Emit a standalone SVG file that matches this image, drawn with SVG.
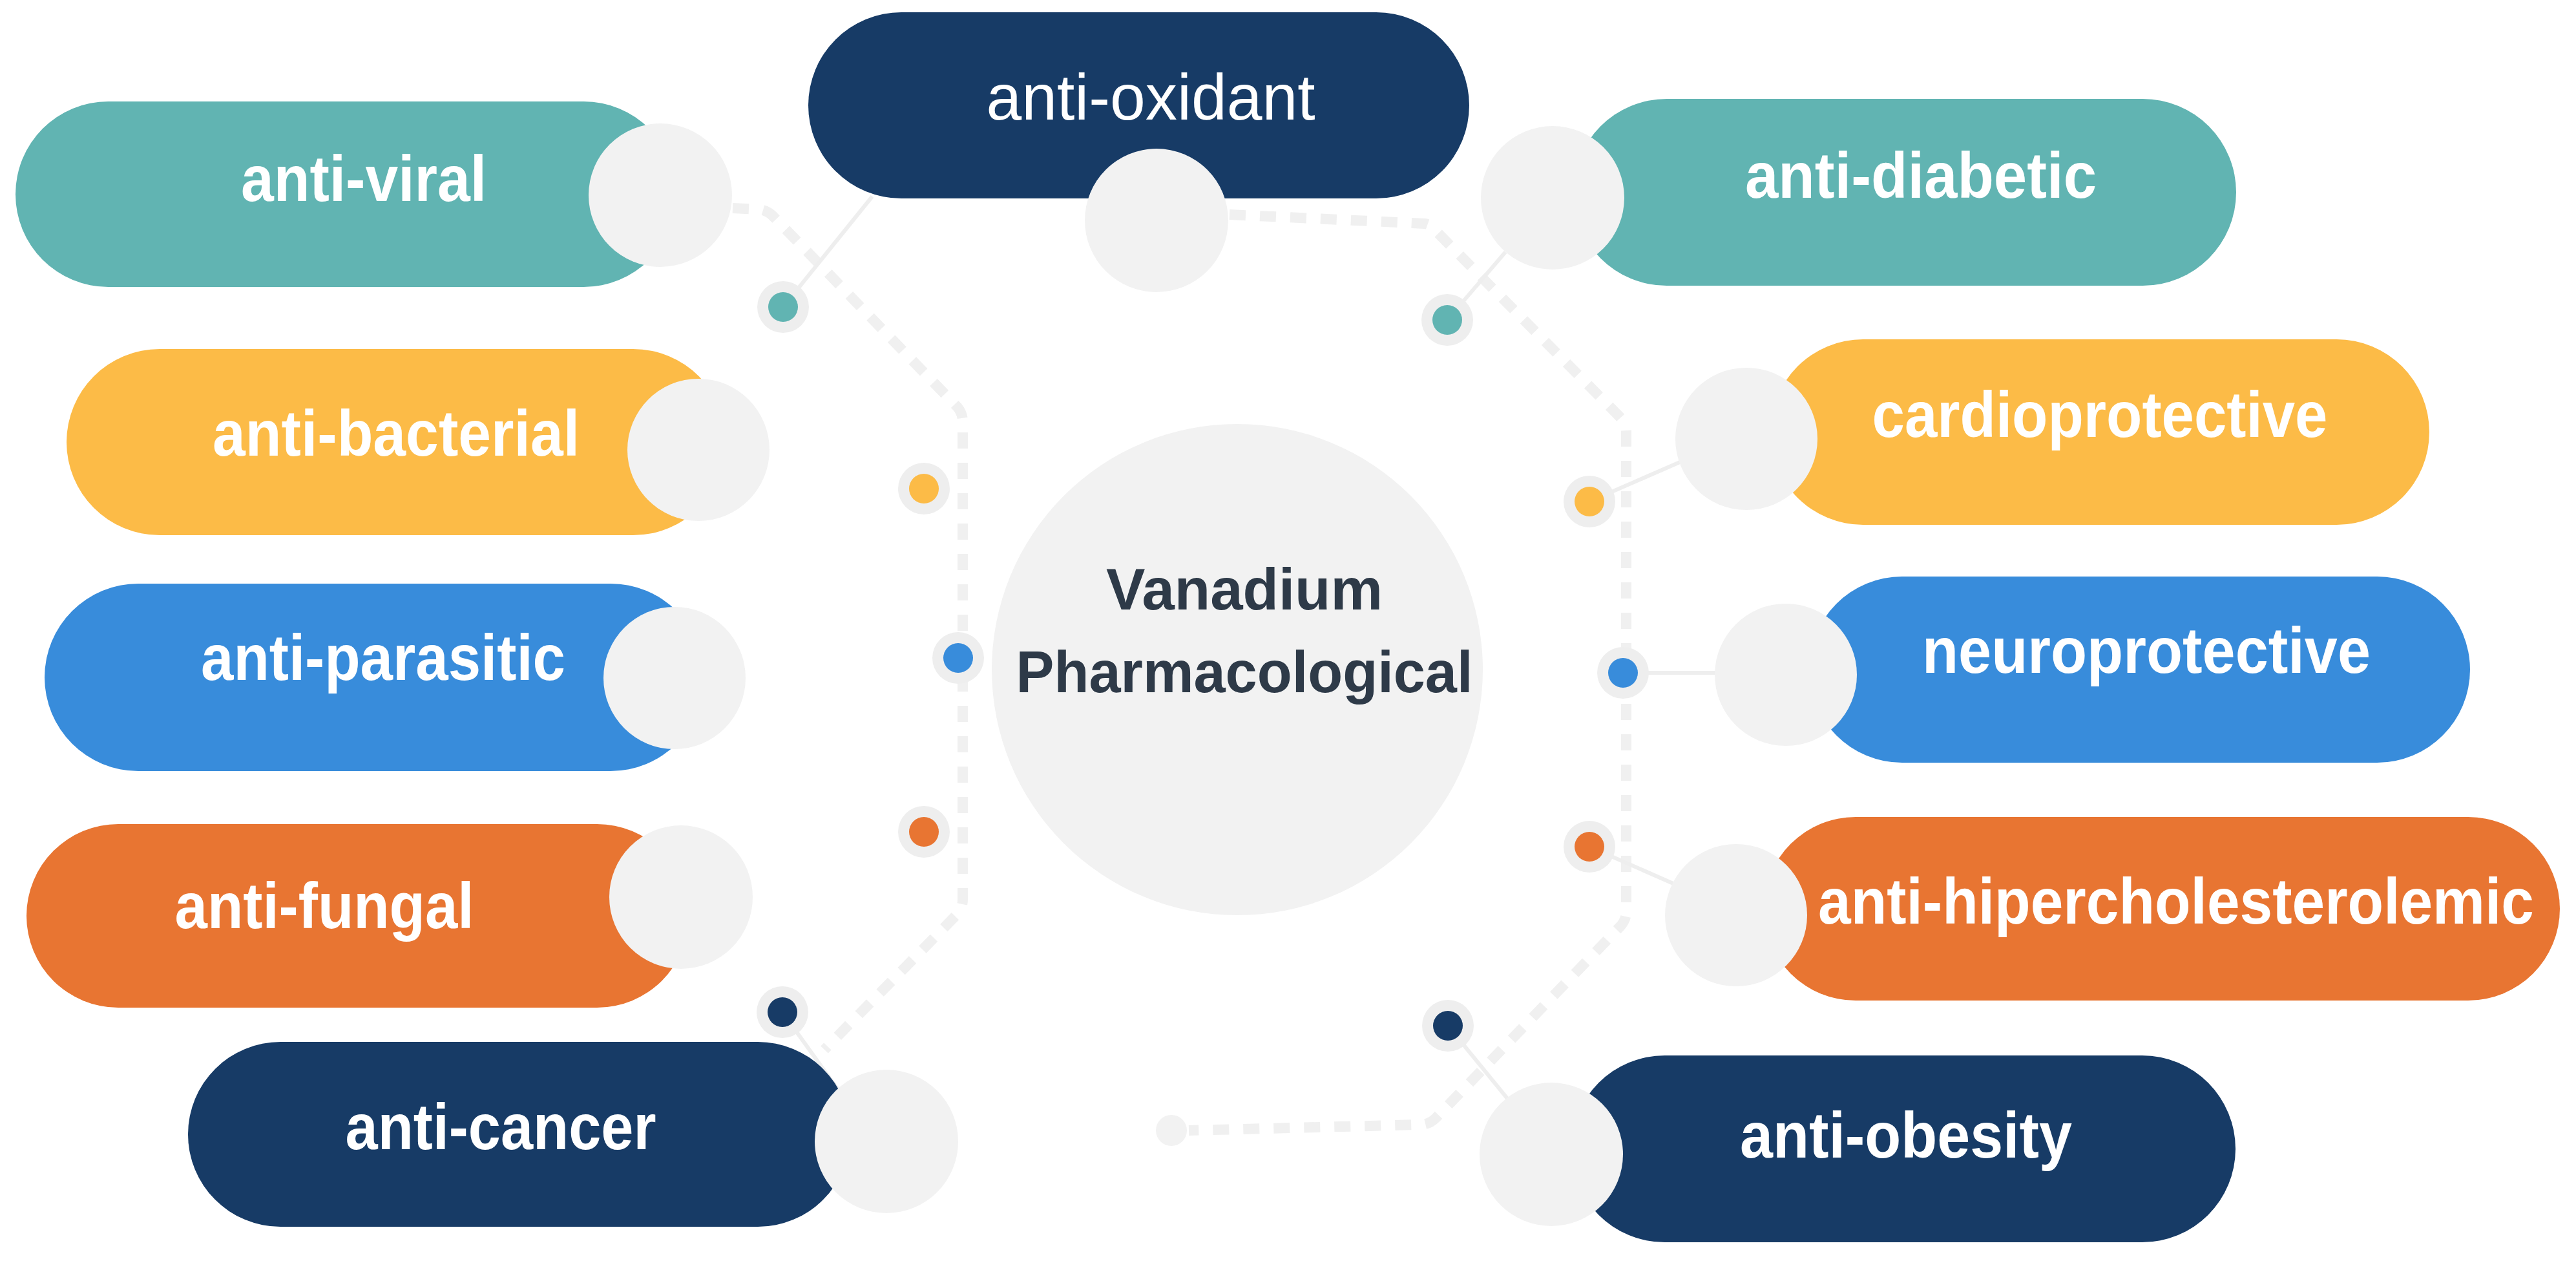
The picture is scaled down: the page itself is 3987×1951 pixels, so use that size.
<svg xmlns="http://www.w3.org/2000/svg" width="3987" height="1951" viewBox="0 0 3987 1951">
<style>
.teal{fill:#61b4b2}
.yellow{fill:#fcbb47}
.blue{fill:#388cdb}
.orange{fill:#e87532}
.navy{fill:#173b66}
.knob{fill:#f2f2f2}
.halo{fill:#eeeeee}
.lbl{font-family:"Liberation Sans",Arial,sans-serif;font-weight:bold;font-size:100px;fill:#ffffff;text-anchor:middle}
.reg{font-weight:normal}
.ctr{font-family:"Liberation Sans",Arial,sans-serif;font-weight:bold;font-size:90px;fill:#2e3a48;text-anchor:middle}
.dash{fill:none;stroke:#f0f0f0;stroke-width:16;stroke-dasharray:25 22}
.link{fill:none;stroke:#eeeeee;stroke-width:6}
</style>
<rect width="3987" height="1951" fill="#ffffff"/>
<g id="connectors">
<path class="dash" d="M1134 322 L1176 324 Q1188 326 1196 334 L1482 630 Q1490 640 1490 652 L1490 1392 Q1490 1404 1482 1414 L1276 1624"/>
<path class="dash" d="M1903 332 L2205 346 Q2214 347 2220 355 L2508 646 Q2517 656 2517 668 L2517 1410 Q2517 1424 2507 1434 L2222 1730 Q2212 1740 2198 1740 L1840 1749"/>
<line class="link" x1="1212" y1="475" x2="1350" y2="304"/>
<line class="link" x1="1211" y1="1566" x2="1300" y2="1690"/>
<line class="link" x1="2240" y1="495" x2="2330" y2="390"/>
<line class="link" x1="2460" y1="776" x2="2600" y2="715"/>
<line class="link" x1="2512" y1="1041" x2="2660" y2="1041"/>
<line class="link" x1="2460" y1="1310" x2="2592" y2="1368"/>
<line class="link" x1="2241" y1="1587" x2="2335" y2="1702"/>
</g>
<g id="dots">
<circle class="halo" cx="1212" cy="475" r="40"/><circle class="teal" cx="1212" cy="475" r="23"/>
<circle class="halo" cx="1430" cy="756" r="40"/><circle class="yellow" cx="1430" cy="756" r="23"/>
<circle class="halo" cx="1483" cy="1018" r="40"/><circle class="blue" cx="1483" cy="1018" r="23"/>
<circle class="halo" cx="1430" cy="1287" r="40"/><circle class="orange" cx="1430" cy="1287" r="23"/>
<circle class="halo" cx="1211" cy="1566" r="40"/><circle class="navy" cx="1211" cy="1566" r="23"/>
<circle class="halo" cx="2240" cy="495" r="40"/><circle class="teal" cx="2240" cy="495" r="23"/>
<circle class="halo" cx="2460" cy="776" r="40"/><circle class="yellow" cx="2460" cy="776" r="23"/>
<circle class="halo" cx="2512" cy="1041" r="40"/><circle class="blue" cx="2512" cy="1041" r="23"/>
<circle class="halo" cx="2460" cy="1310" r="40"/><circle class="orange" cx="2460" cy="1310" r="23"/>
<circle class="halo" cx="2241" cy="1587" r="40"/><circle class="navy" cx="2241" cy="1587" r="23"/>
<circle class="knob" cx="1813" cy="1749" r="24"/>
</g>
<g id="center">
<circle class="knob" cx="1915" cy="1036" r="380"/>
<text class="ctr" x="1926" y="943" textLength="428" lengthAdjust="spacingAndGlyphs">Vanadium</text>
<text class="ctr" x="1926" y="1071" textLength="707" lengthAdjust="spacingAndGlyphs">Pharmacological</text>
</g>
<g id="anti-viral">
<rect class="teal" x="24" y="157" width="1023" height="287" rx="143.5"/>
<circle class="knob" cx="1022" cy="302" r="111"/>
<text class="lbl" x="563" y="311" textLength="380" lengthAdjust="spacingAndGlyphs">anti-viral</text>
</g>
<g id="anti-bacterial">
<rect class="yellow" x="103" y="540" width="1021" height="288" rx="144"/>
<circle class="knob" cx="1081" cy="696" r="110"/>
<text class="lbl" x="613" y="705" textLength="568" lengthAdjust="spacingAndGlyphs">anti-bacterial</text>
</g>
<g id="anti-parasitic">
<rect class="blue" x="69" y="903" width="1021" height="290" rx="145"/>
<circle class="knob" cx="1044" cy="1049" r="110"/>
<text class="lbl" x="593" y="1052" textLength="564" lengthAdjust="spacingAndGlyphs">anti-parasitic</text>
</g>
<g id="anti-fungal">
<rect class="orange" x="41" y="1275" width="1025" height="284" rx="142"/>
<circle class="knob" cx="1054" cy="1388" r="111"/>
<text class="lbl" x="502" y="1436" textLength="463" lengthAdjust="spacingAndGlyphs">anti-fungal</text>
</g>
<g id="anti-cancer">
<rect class="navy" x="291" y="1612" width="1025" height="286" rx="143"/>
<circle class="knob" cx="1372" cy="1766" r="111"/>
<text class="lbl" x="775" y="1778" textLength="481" lengthAdjust="spacingAndGlyphs">anti-cancer</text>
</g>
<g id="anti-oxidant">
<rect class="navy" x="1251" y="19" width="1023" height="288" rx="144"/>
<circle class="knob" cx="1790" cy="341" r="111"/>
<text class="lbl reg" x="1781" y="185" textLength="509" lengthAdjust="spacingAndGlyphs">anti-oxidant</text>
</g>
<g id="anti-diabetic">
<rect class="teal" x="2435" y="153" width="1026" height="289" rx="144.5"/>
<circle class="knob" cx="2403" cy="306" r="111"/>
<text class="lbl" x="2973" y="306" textLength="544" lengthAdjust="spacingAndGlyphs">anti-diabetic</text>
</g>
<g id="cardioprotective">
<rect class="yellow" x="2740" y="525" width="1020" height="287" rx="143.5"/>
<circle class="knob" cx="2703" cy="679" r="110"/>
<text class="lbl" x="3250" y="676" textLength="705" lengthAdjust="spacingAndGlyphs">cardioprotective</text>
</g>
<g id="neuroprotective">
<rect class="blue" x="2800" y="892" width="1023" height="288" rx="144"/>
<circle class="knob" cx="2764" cy="1044" r="110"/>
<text class="lbl" x="3322" y="1041" textLength="694" lengthAdjust="spacingAndGlyphs">neuroprotective</text>
</g>
<g id="anti-hipercholesterolemic">
<rect class="orange" x="2730" y="1264" width="1232" height="284" rx="142"/>
<circle class="knob" cx="2687" cy="1416" r="110"/>
<text class="lbl" x="3368" y="1429" textLength="1108" lengthAdjust="spacingAndGlyphs">anti-hipercholesterolemic</text>
</g>
<g id="anti-obesity">
<rect class="navy" x="2432" y="1633" width="1028" height="289" rx="144.5"/>
<circle class="knob" cx="2401" cy="1786" r="111"/>
<text class="lbl" x="2950" y="1791" textLength="514" lengthAdjust="spacingAndGlyphs">anti-obesity</text>
</g>
</svg>
